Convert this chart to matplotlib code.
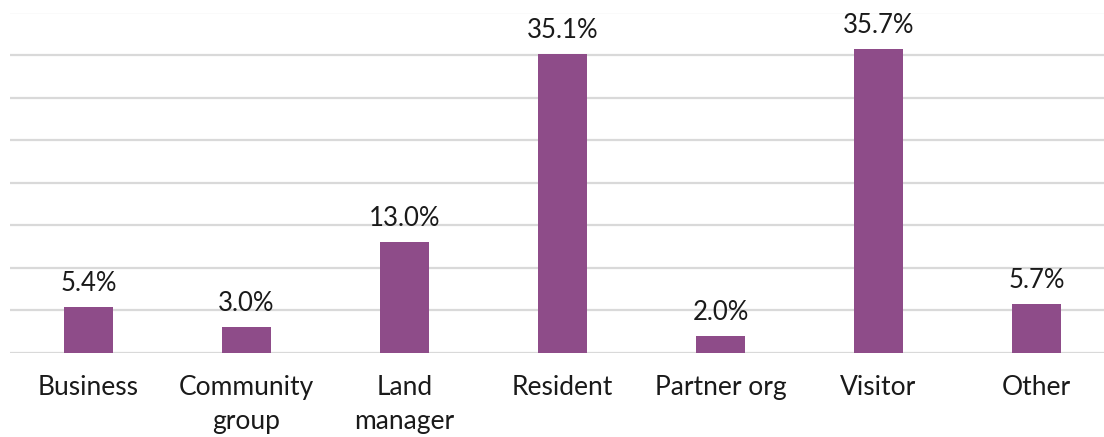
import matplotlib
matplotlib.use("Agg")
import matplotlib.pyplot as plt
import numpy as np

# respondent types and share of responses (%)
categories = ["Business", "Community\ngroup", "Land\nmanager", "Resident",
              "Partner org", "Visitor", "Other"]
shares = [5.4, 3.0, 13.0, 35.1, 2.0, 35.7, 5.7]

plt.rcParams['font.family'] = ['Lato', 'DejaVu Sans']

W, H = 1104, 437
fig = plt.figure(figsize=(W / 100, H / 100), dpi=100)
# plot area runs a little past the right edge of the canvas
ax = fig.add_axes([9.5 / W, (H - 353) / H, 1106 / W, (353 - 12.5) / H])

x = np.arange(len(categories))
ax.bar(x, shares, width=0.31, color="#8E4C89", zorder=3)

for xi, v in zip(x, shares):
    ax.text(xi, v + 1.3, f"{v:.1f}%", ha="center", va="bottom",
            fontsize=18.5, color="#1a1a1a")

ax.set_xlim(-0.5, len(categories) - 0.5)
ax.set_ylim(0, 40)
ax.set_yticks(np.arange(0, 45, 5))
ax.yaxis.grid(True, color="#D9D9D9", linewidth=1.6, zorder=0)
ax.tick_params(axis="y", left=False, labelleft=False)
ax.tick_params(axis="x", length=0, pad=16)
ax.set_xticks(x)
ax.set_xticklabels(categories, fontsize=19, color="#1a1a1a", linespacing=1.45)
for s in ax.spines.values():
    s.set_visible(False)

fig.savefig("out.png", dpi=100)
